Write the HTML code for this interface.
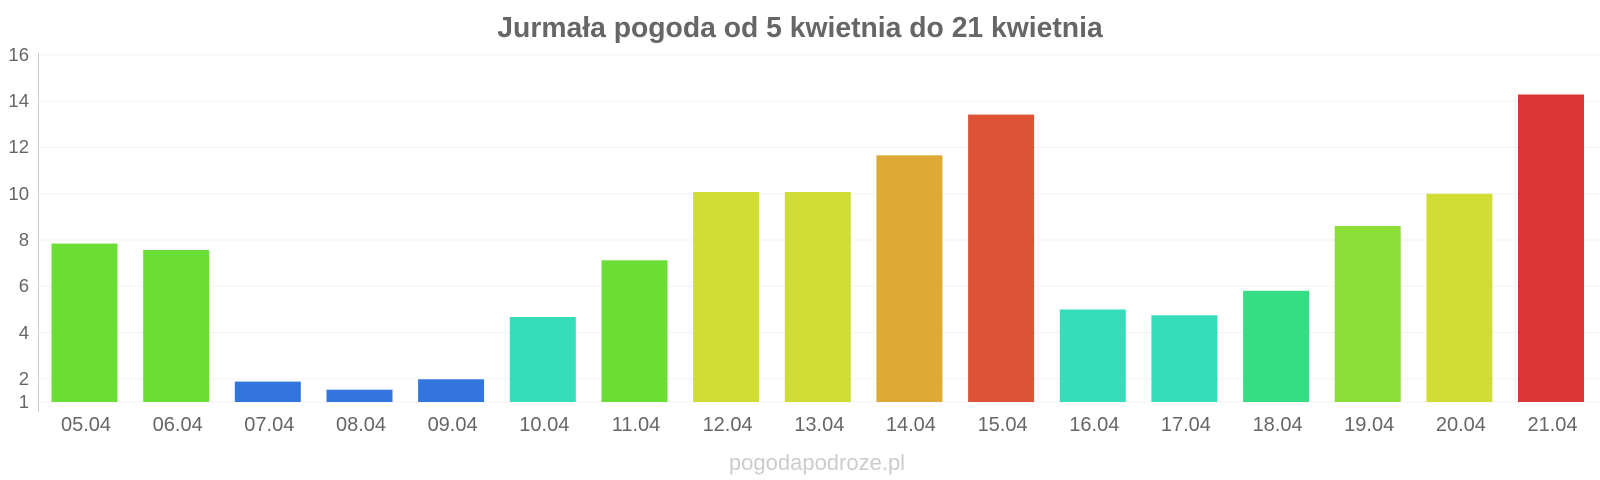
<!DOCTYPE html>
<html><head><meta charset="utf-8"><style>body{margin:0;background:#fff}svg{display:block}</style></head><body>
<svg width="1600" height="480" xmlns="http://www.w3.org/2000/svg" font-family="Liberation Sans, sans-serif">
<text x="800" y="37" text-anchor="middle" font-size="28.3" font-weight="bold" fill="#666">Jurmała pogoda od 5 kwietnia do 21 kwietnia</text>
<g stroke="#f3f3f3" stroke-width="1">
<line x1="38" x2="1600" y1="55" y2="55"/><line x1="38" x2="1600" y1="101.3" y2="101.3"/><line x1="38" x2="1600" y1="147.5" y2="147.5"/><line x1="38" x2="1600" y1="193.8" y2="193.8"/><line x1="38" x2="1600" y1="240" y2="240"/><line x1="38" x2="1600" y1="286.3" y2="286.3"/><line x1="38" x2="1600" y1="332.6" y2="332.6"/><line x1="38" x2="1600" y1="378.9" y2="378.9"/><line x1="38" x2="1600" y1="402" y2="402"/>
</g>
<line x1="38.5" x2="38.5" y1="53" y2="412" stroke="#ccc"/>
<g font-size="18.5" fill="#666" text-anchor="end">
<text x="29" y="61">16</text><text x="29" y="107">14</text><text x="29" y="153">12</text><text x="29" y="200">10</text><text x="29" y="246">8</text><text x="29" y="292">6</text><text x="29" y="339">4</text><text x="29" y="385">2</text><text x="29" y="408">1</text>
</g>
<g>
<rect x="51.5" y="243.6" width="66" height="158.4" fill="#6ade35"/>
<rect x="143.2" y="250" width="66" height="152" fill="#6ade35"/>
<rect x="234.8" y="381.6" width="66" height="20.4" fill="#3275dd"/>
<rect x="326.5" y="389.7" width="66" height="12.3" fill="#3275dd"/>
<rect x="418.1" y="379.3" width="66" height="22.7" fill="#3275dd"/>
<rect x="509.8" y="317" width="66" height="85" fill="#35ddbb"/>
<rect x="601.5" y="260.3" width="66" height="141.7" fill="#6ade35"/>
<rect x="693.1" y="192" width="66" height="210" fill="#cfdd35"/>
<rect x="784.8" y="192" width="66" height="210" fill="#cfdd35"/>
<rect x="876.4" y="155.3" width="66" height="246.7" fill="#dcaa35"/>
<rect x="968.1" y="114.6" width="66" height="287.4" fill="#de5235"/>
<rect x="1059.8" y="309.5" width="66" height="92.5" fill="#35ddbb"/>
<rect x="1151.4" y="315.3" width="66" height="86.7" fill="#35ddbb"/>
<rect x="1243.1" y="290.8" width="66" height="111.2" fill="#35dd85"/>
<rect x="1334.7" y="226" width="66" height="176" fill="#8ade35"/>
<rect x="1426.4" y="193.8" width="66" height="208.2" fill="#cfdd35"/>
<rect x="1518" y="94.5" width="66" height="307.5" fill="#dc3535"/>
</g>
<g font-size="20" fill="#666" text-anchor="middle">
<text x="86" y="431">05.04</text><text x="177.7" y="431">06.04</text><text x="269.3" y="431">07.04</text><text x="361" y="431">08.04</text><text x="452.6" y="431">09.04</text><text x="544.3" y="431">10.04</text><text x="636" y="431">11.04</text><text x="727.6" y="431">12.04</text><text x="819.3" y="431">13.04</text><text x="910.9" y="431">14.04</text><text x="1002.6" y="431">15.04</text><text x="1094.3" y="431">16.04</text><text x="1185.9" y="431">17.04</text><text x="1277.6" y="431">18.04</text><text x="1369.2" y="431">19.04</text><text x="1460.9" y="431">20.04</text><text x="1552.5" y="431">21.04</text>
</g>
<text x="817" y="470" text-anchor="middle" font-size="22" fill="#ccc">pogodapodroze.pl</text>
</svg>
</body></html>
